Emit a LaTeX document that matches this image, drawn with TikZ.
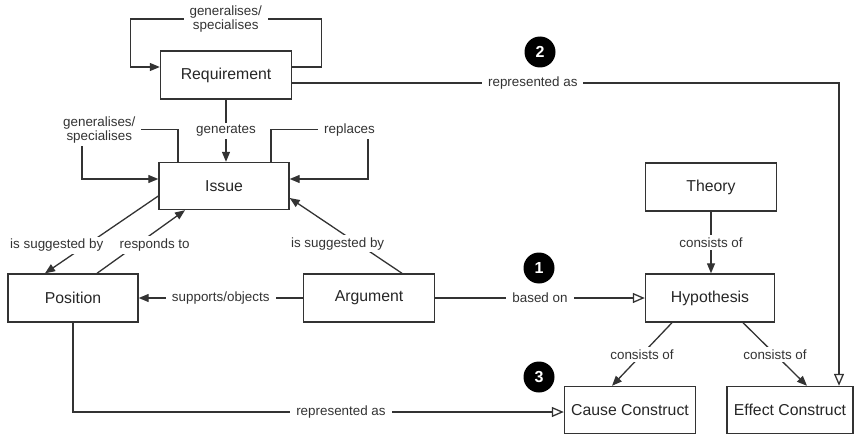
\documentclass[tikz,border=0pt]{standalone}
\usepackage{fontspec}
\setmainfont{Liberation Sans}
\usetikzlibrary{arrows.meta}
\definecolor{ink}{HTML}{333333}
\begin{document}
\begin{tikzpicture}[x=1pt,y=-1pt,
  box/.style={draw=ink,line width=1.4pt,minimum height=48pt,inner sep=0pt,
    font=\fontsize{15.8}{18}\selectfont,text=black!85},
  lbl/.style={fill=white,inner xsep=6pt,inner ysep=2.5pt,align=center,
    font=\fontsize{13.4}{14.5}\selectfont,text=ink},
  conn/.style={draw=ink,line width=1.3pt},
  arr/.style={conn,-{Triangle[length=10pt,width=8pt]}},
  oarr/.style={conn,-{Triangle[open,length=12pt,width=10pt,fill=white]}},
  badge/.style={circle,fill=black,minimum size=31pt,inner sep=0pt,
    text=white,font=\fontsize{16}{18}\selectfont\bfseries}]
\useasboundingbox (0,0) rectangle (854,436);

% concept boxes
\node[box,minimum width=131pt] (req) at (226,75) {Requirement};
\node[box,minimum width=130pt,minimum height=47pt] (iss) at (224,186) {Issue};
\node[box,minimum width=130pt] (pos) at (73,298) {Position};
\node[box,minimum width=131pt] (arg) at (369,298) {Argument};
\node[box,minimum width=131pt] (the) at (711,187) {Theory};
\node[box,minimum width=129pt] (hyp) at (710,298) {Hypothesis};
\node[box,minimum width=131pt,minimum height=47pt] (cau) at (630,410) {Cause Construct};
\node[box,minimum width=126pt,minimum height=47pt] (eff) at (790,410) {Effect Construct};

% numbered badges
\node[badge] (b1) at (539,268) {1};
\node[badge] (b2) at (540,52) {2};
\node[badge] (b3) at (539,377) {3};

% self relation of Requirement
\draw[arr] ([yshift=8pt]req.east) -- ++(29,0) -- ++(0,-48)
  -- node[lbl]{generalises/\\specialises} ++(-191,0)
  |- ([yshift=8pt]req.west);

% Requirement generates Issue
\draw[arr] (req.south) -- node[lbl]{generates} (req.south |- iss.north);

% self relations of Issue
\draw[arr] ([xshift=-46pt]iss.north) -- ++(0,-32)
  -- node[lbl,pos=0.82]{generalises/\\specialises} ++(-96,0)
  |- ([yshift=7pt]iss.west);
\draw[arr] ([xshift=47pt]iss.north) -- ++(0,-32)
  -- node[lbl,pos=0.81]{replaces} ++(97,0)
  |- ([yshift=7pt]iss.east);

% Issue / Position / Argument
\draw[arr] ([yshift=-10pt]iss.west) -- node[lbl,pos=0.64,xshift=-29pt]{is suggested by}
  ([xshift=-28pt]pos.north);
\draw[arr] ([xshift=24pt]pos.north) -- node[lbl,pos=0.45,xshift=18pt]{responds to}
  ([xshift=-39pt]iss.south);
\draw[arr] ([xshift=33pt]arg.north) -- node[lbl,pos=0.395,xshift=-20pt]{is suggested by}
  ([yshift=-12pt]iss.east);
\draw[arr] (arg.west) -- node[lbl]{supports/objects} (pos.east);

% Argument based on Hypothesis
\draw[oarr] (arg.east) -- node[lbl]{based on} (hyp.west);

% Theory and Hypothesis
\draw[arr] (the.south) -- node[lbl]{consists of} (the.south |- hyp.north);
\draw[arr] ([xshift=-38pt]hyp.south) -- node[lbl]{consists of} ([xshift=-18pt]cau.north);
\draw[arr] ([xshift=33pt]hyp.south) -- node[lbl]{consists of} ([xshift=17pt]eff.north);

% representations
\draw[oarr] ([yshift=-8pt]req.east) -| node[lbl,pos=0.22]{represented as}
  ([xshift=49pt]eff.north);
\draw[oarr] (pos.south) |- node[lbl,pos=0.773]{represented as}
  ([yshift=-2pt]cau.west);
\end{tikzpicture}
\end{document}
